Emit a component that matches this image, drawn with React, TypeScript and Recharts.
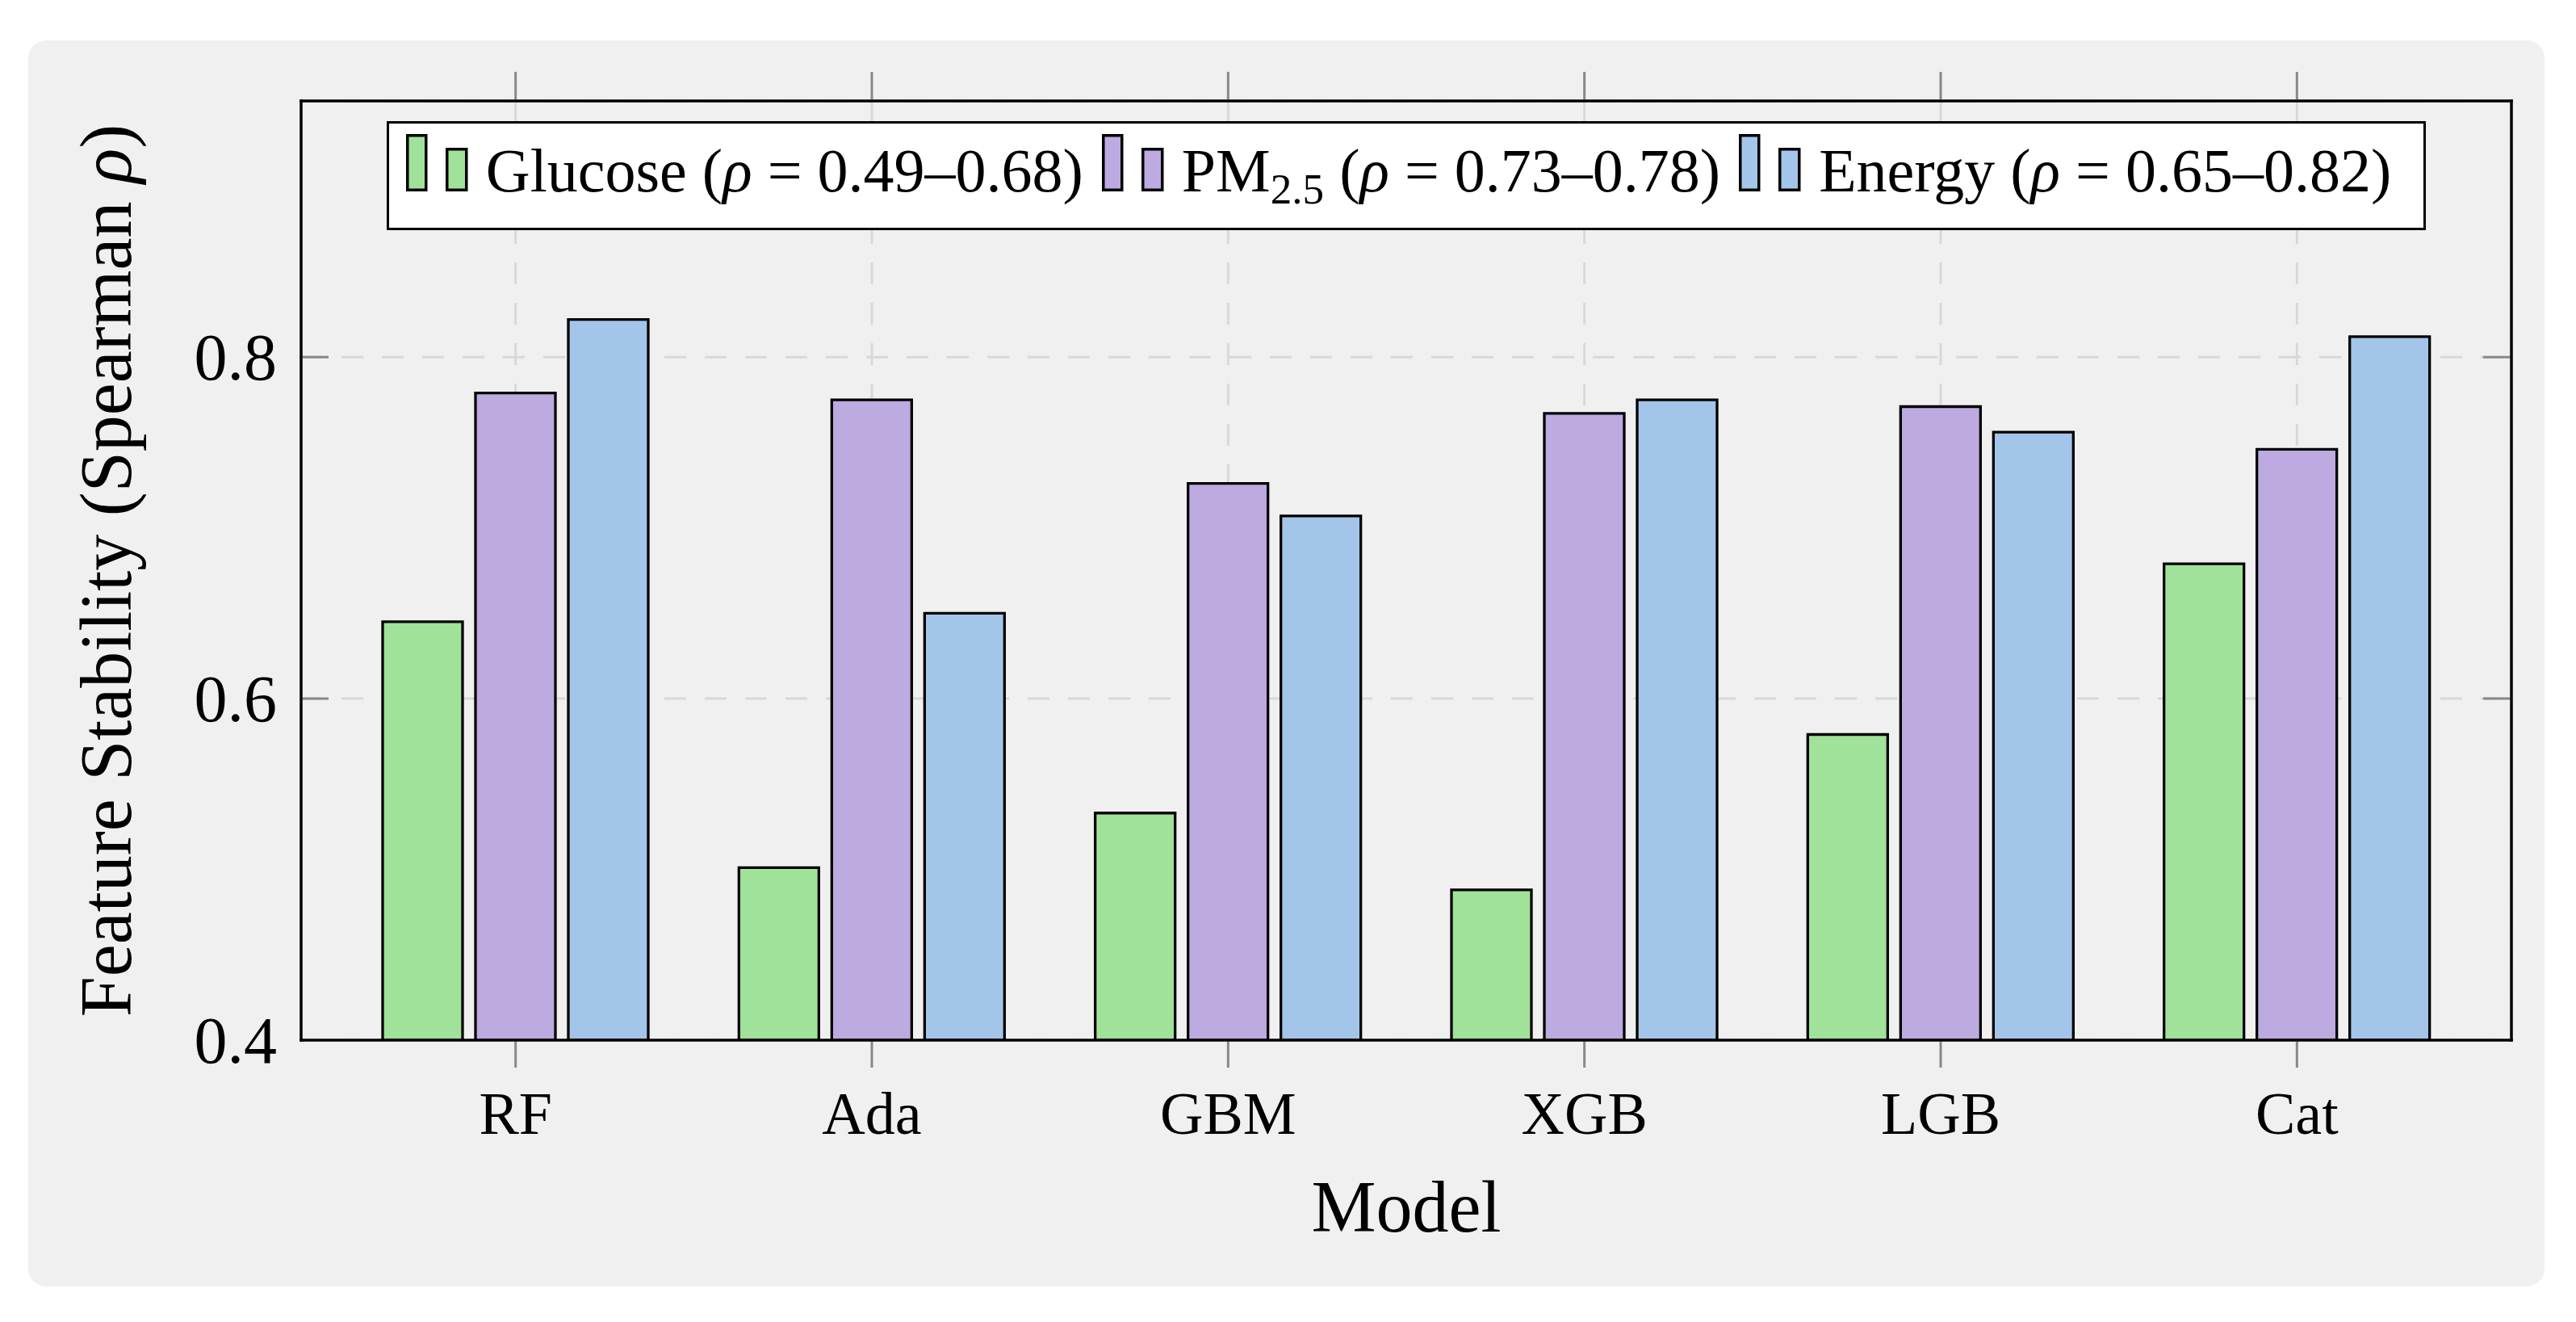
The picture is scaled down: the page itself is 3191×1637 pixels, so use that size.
import { BarChart, Bar, XAxis, YAxis, CartesianGrid, Legend, Label } from "recharts";

const FONT = "'Liberation Serif', 'DejaVu Serif', serif";

// values
const models = ["RF", "Ada", "GBM", "XGB", "LGB", "Cat"];
const glucose = [0.645, 0.501, 0.533, 0.488, 0.579, 0.679];
const pm25 = [0.779, 0.775, 0.726, 0.767, 0.771, 0.746];
const energy = [0.822, 0.65, 0.707, 0.775, 0.756, 0.812];
const yTicks = [0.4, 0.6, 0.8];
const yDomain = [0.4, 0.95];

const series = [
  { key: "glucose", name: "Glucose", sub: "", range: "0.49–0.68", color: "#a0e299" },
  { key: "pm25", name: "PM", sub: "2.5", range: "0.73–0.78", color: "#bcaae0" },
  { key: "energy", name: "Energy", sub: "", range: "0.65–0.82", color: "#a3c5e9" },
];

const data = models.map((m, i) => ({
  model: m,
  glucose: glucose[i],
  pm25: pm25[i],
  energy: energy[i],
}));

// legend with the two-bar pgfplots style icon
function LegendBox() {
  return (
    <div style={{ display: "flex", justifyContent: "center" }}>
      <div
        style={{
          display: "flex",
          alignItems: "baseline",
          background: "#fff",
          border: "3.5px solid #000",
          height: 135,
          boxSizing: "border-box",
          padding: "13px 40px 0 21px",
          fontFamily: FONT,
          fontSize: 76,
          color: "#000",
          whiteSpace: "nowrap",
        }}
      >
        {series.map((s, i) => (
          <span
            key={s.key}
            style={{ display: "flex", alignItems: "baseline", marginLeft: i ? 23 : 0 }}
          >
            <svg width={78} height={71} style={{ marginRight: 21 }}>
              <rect x={1.75} y={1.75} width={23} height={67.5} fill={s.color} stroke="#000" strokeWidth={3.5} />
              <rect x={50.75} y={18.75} width={24} height={50.5} fill={s.color} stroke="#000" strokeWidth={3.5} />
            </svg>
            <span>
              {s.name}
              {s.sub && (
                <span style={{ fontSize: "0.7em", position: "relative", top: 15 }}>{s.sub}</span>
              )}{" "}
              (<i>ρ</i> = {s.range})
            </span>
          </span>
        ))}
      </div>
    </div>
  );
}

const XTick = (props: any) => {
  const { x, y, payload } = props;
  return (
    <g>
      <line x1={x} x2={x} y1={y - 32} y2={y} stroke="#888" strokeWidth={3} />
      <text x={x} y={y + 82} textAnchor="middle" fontFamily={FONT} fontSize={74} fill="#000">
        {payload.value}
      </text>
    </g>
  );
};

const TopTick = (props: any) => {
  const { x, y } = props;
  return <line x1={x} x2={x} y1={y} y2={y + 34} stroke="#888" strokeWidth={3} />;
};

const YTickLeft = (props: any) => {
  const { x, y, payload, index } = props;
  return (
    <g>
      {index !== 0 && <line x1={x + 32} x2={x + 64} y1={y} y2={y} stroke="#888" strokeWidth={3} />}
      <text x={x} y={y} dy={28} textAnchor="end" fontFamily={FONT} fontSize={82} fill="#000">
        {Number(payload.value).toFixed(1)}
      </text>
    </g>
  );
};

const YTickRight = (props: any) => {
  const { x, y, index } = props;
  if (index === 0) return <g />;
  return <line x1={x - 35} x2={x - 2} y1={y} y2={y} stroke="#888" strokeWidth={3} />;
};

export default function App() {
  const frame = { stroke: "#000", strokeWidth: 3.5, strokeLinecap: "square" as const };
  return (
    <div style={{ position: "absolute", left: 0, top: 0, width: 3191, height: 1637, background: "#fff" }}>
      <div
        style={{
          position: "absolute",
          left: 35,
          top: 50,
          width: 3117,
          height: 1543,
          background: "#f0f0f0",
          borderRadius: 22,
        }}
      />
      <div style={{ position: "absolute", left: 0, top: 0 }}>
        <BarChart
          width={3191}
          height={1637}
          data={data}
          margin={{ top: 124, right: 79, bottom: 348, left: 372 }}
          barSize={99}
          barGap={16}
        >
          <CartesianGrid stroke="#d8d8d8" strokeWidth={3} strokeDasharray="27 23" />
          <XAxis
            dataKey="model"
            height={1}
            padding={{ left: 45, right: 45 }}
            axisLine={frame}
            tickLine={false}
            tickSize={34}
            tickMargin={0}
            tick={<XTick />}
            interval={0}
          >
            <Label
              content={(p: any) => {
                const { x, y, width } = p.viewBox;
                return (
                  <text x={x + width / 2} y={y + 237} textAnchor="middle" fontFamily={FONT} fontSize={90} fill="#000">
                    Model
                  </text>
                );
              }}
            />
          </XAxis>
          <XAxis
            xAxisId="top"
            orientation="top"
            dataKey="model"
            height={1}
            padding={{ left: 45, right: 45 }}
            axisLine={frame}
            tickLine={false}
            tickSize={36}
            tickMargin={0}
            tick={<TopTick />}
            interval={0}
          />
          <YAxis
            type="number"
            width={1}
            domain={yDomain}
            ticks={yTicks}
            allowDataOverflow
            axisLine={frame}
            tickLine={false}
            tickSize={0}
            tickMargin={30}
            tick={<YTickLeft />}
          >
            <Label
              content={(p: any) => {
                const { x, y, width, height } = p.viewBox;
                return (
                  <text
                    transform={`translate(${x + width - 211},${y + height / 2}) rotate(-90)`}
                    textAnchor="middle"
                    fontFamily={FONT}
                    fontSize={90}
                    fill="#000"
                  >
                    Feature Stability (Spearman <tspan fontStyle="italic">ρ</tspan>)
                  </text>
                );
              }}
            />
          </YAxis>
          <YAxis
            yAxisId="right"
            orientation="right"
            type="number"
            width={1}
            domain={yDomain}
            ticks={yTicks}
            allowDataOverflow
            axisLine={frame}
            tickLine={false}
            tickSize={0}
            tickMargin={0}
            tick={<YTickRight />}
          />
          <Legend
            verticalAlign="middle"
            layout="horizontal"
            wrapperStyle={{ top: 150, left: 373, width: 2738 }}
            content={() => <LegendBox />}
          />
          {series.map((s) => (
            <Bar
              key={s.key}
              dataKey={s.key}
              name={s.name}
              fill={s.color}
              stroke="#000"
              strokeWidth={3.3}
              isAnimationActive={false}
            />
          ))}
        </BarChart>
      </div>
    </div>
  );
}
